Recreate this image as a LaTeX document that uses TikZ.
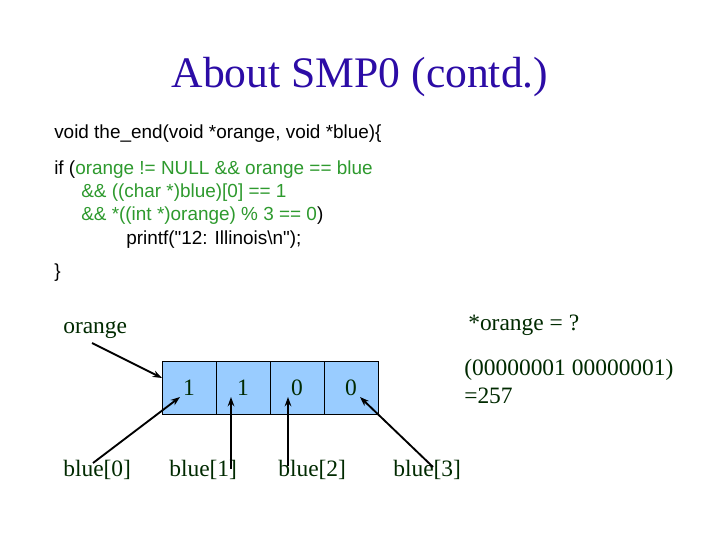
\documentclass[tikz,border=0pt]{standalone}
\usepackage{fontspec}
\setmainfont{Liberation Serif}
\newfontfamily\arialf{Liberation Sans}
\usetikzlibrary{arrows.meta}
\definecolor{titleblue}{HTML}{2C0CA6}
\definecolor{labgreen}{HTML}{002A00}
\definecolor{codegreen}{HTML}{2E9A2E}
\definecolor{cellblue}{HTML}{99CCFF}
\tikzset{
  code/.style={anchor=west, inner sep=0pt, font=\arialf\fontsize{14.2}{16}\selectfont},
  lab/.style={inner sep=0pt, text=labgreen, font=\fontsize{17.6}{20}\selectfont},
  cell/.style={draw=black, line width=0.7pt, fill=cellblue, minimum width=40.5pt, minimum height=39.75pt, inner sep=0pt, outer sep=0pt, text=labgreen, font=\fontsize{17.6}{20}\selectfont},
  ptr/.style={line width=1.4pt, -{Stealth[length=7pt,width=5pt]}}
}
\begin{document}
\begin{tikzpicture}[x=0.75pt,y=-0.75pt]
\useasboundingbox (0,0) rectangle (720,540);
\fill[white] (0,0) rectangle (720,540);
% title
\node[inner sep=0pt, text=titleblue, font=\fontsize{32.7}{36}\selectfont] (title) at (360,77) {About SMP0 (contd.)};
% code
\node[code] (l1) at (54,134) {void the\_end(void *orange, void *blue)\{};
\node[code] (l2) at (54,170) {if (\textcolor{codegreen}{orange != NULL \&\& orange == blue}};
\node[code, text=codegreen] (l3) at (81,193) {\&\& ((char *)blue)[0] == 1};
\node[code] (l4) at (81,216) {\textcolor{codegreen}{\&\& *((int *)orange) \% 3 == 0})};
\node[code] (l5) at (126,240) {printf("12: Illinois\textbackslash n");};
\node[code] (l6) at (54,273) {\}};
% labels
\node[lab, anchor=west] (orange) at (63,330) {orange};
\node[lab, anchor=west] (star) at (468,325) {*orange = ?};
\node[lab, anchor=west] (bits) at (464,370) {(00000001 00000001)};
\node[lab, anchor=west] (val) at (464,396) {=257};
% cells
\node[cell] (c0) at (189,387.5) {1};
\node[cell] (c1) at (243,387.5) {1};
\node[cell] (c2) at (297,387.5) {0};
\node[cell] (c3) at (351,387.5) {0};
% index labels
\node[lab, anchor=west] (b0) at (63,470) {blue[0]};
\node[lab, anchor=west] (b1) at (169,470) {blue[1]};
\node[lab, anchor=west] (b2) at (278,470) {blue[2]};
\node[lab, anchor=west] (b3) at (393,470) {blue[3]};
% pointer ends
\coordinate (os) at (92,343);
\coordinate (oe) at (162,378);
\coordinate (s0) at (93,463);
\coordinate (e0) at (180,397);
\coordinate (s1) at (231,469);
\coordinate (e1) at (231,397);
\coordinate (s2) at (288,466);
\coordinate (e2) at (288,397);
\coordinate (s3) at (433,467);
\coordinate (e3) at (360,397);
\draw[ptr] (os) -- (oe);
\draw[ptr] (s0) -- (e0);
\draw[ptr] (s1) -- (e1);
\draw[ptr] (s2) -- (e2);
\draw[ptr] (s3) -- (e3);
\end{tikzpicture}
\end{document}
